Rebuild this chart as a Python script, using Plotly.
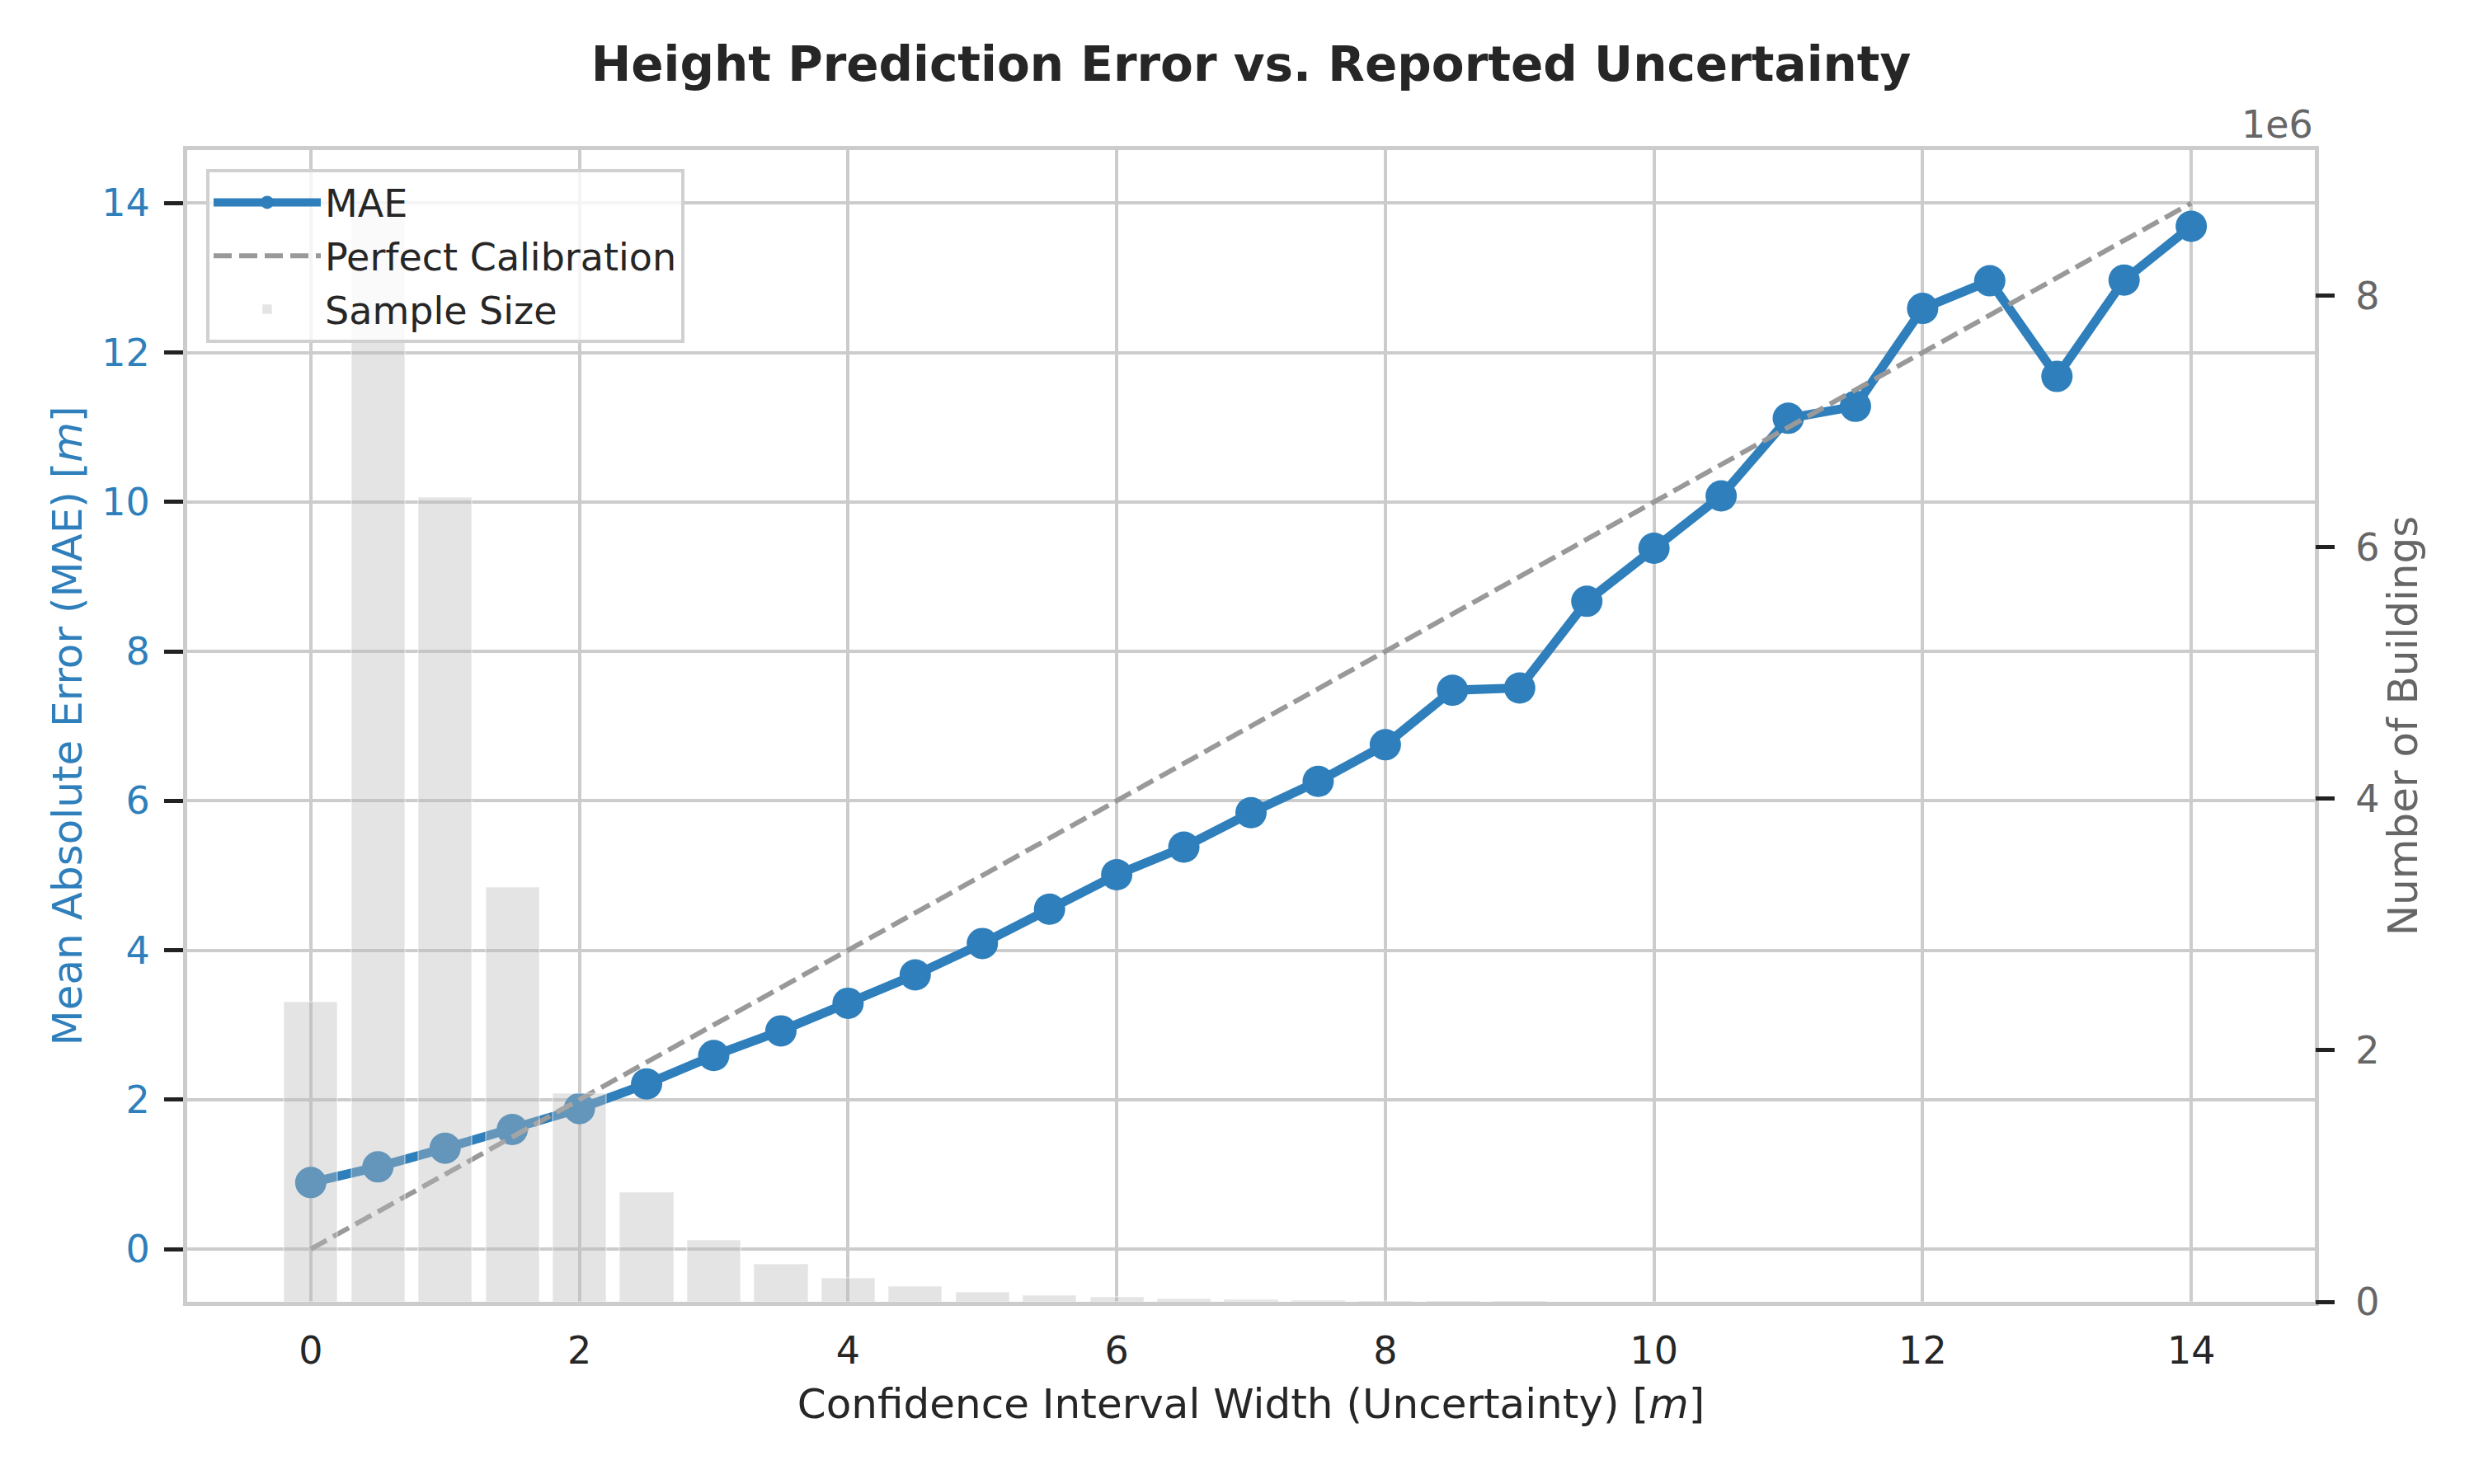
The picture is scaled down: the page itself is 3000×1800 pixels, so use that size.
import plotly.graph_objects as go

# ---- data ----
ci_width = [0.0, 0.5, 1.0, 1.5, 2.0, 2.5, 3.0, 3.5, 4.0, 4.5, 5.0, 5.5, 6.0, 6.5, 7.0,
            7.5, 8.0, 8.5, 9.0, 9.5, 10.0, 10.5, 11.0, 11.5, 12.0, 12.5, 13.0, 13.5, 14.0]
mae = [0.89, 1.10, 1.35, 1.60, 1.88, 2.21, 2.59, 2.92, 3.29, 3.67, 4.09, 4.55, 5.01, 5.38, 5.84,
       6.26, 6.75, 7.48, 7.51, 8.67, 9.38, 10.08, 11.12, 11.28, 12.59, 12.96, 11.68, 12.97, 13.69]
n_buildings = [2.39e6, 8.72e6, 6.40e6, 3.30e6, 1.66e6, 0.875e6, 0.494e6, 0.30e6, 0.19e6, 0.125e6,
               0.079e6, 0.052e6, 0.037e6, 0.026e6, 0.019e6, 0.012e6, 0.009e6, 0.006e6, 0.004e6,
               0.003e6, 0.002e6, 0.0015e6, 0.001e6, 0.0008e6, 0.0006e6, 0.0004e6, 0.0003e6,
               0.0002e6, 0.0002e6]
calib_x = [0, 14]
calib_y = [0, 14]
x_ticks = [0, 2, 4, 6, 8, 10, 12, 14]
y_ticks = [0, 2, 4, 6, 8, 10, 12, 14]
y2_ticks = [0, 2e6, 4e6, 6e6, 8e6]
y2_ticklabels = ["0", "2", "4", "6", "8"]

BLUE = "#2e7fbb"
FONT = "DejaVu Sans"

fig = go.Figure()
fig.add_trace(go.Scatter(
    x=ci_width, y=mae, mode="lines+markers", name="MAE",
    line=dict(color=BLUE, width=11), marker=dict(color=BLUE, size=38),
    legendrank=1, legendgroup="a"))
fig.add_trace(go.Scatter(
    x=calib_x, y=calib_y, mode="lines", name="Perfect Calibration",
    line=dict(color="#999999", width=6, dash="22px,9px"),
    legendrank=2, legendgroup="b"))
fig.add_trace(go.Bar(
    x=ci_width, y=n_buildings, name="Sample Size", yaxis="y2", width=0.4,
    marker=dict(color="rgba(185,185,185,0.39)", line=dict(color="rgba(255,255,255,0.35)", width=2)),
    legendrank=3, legendgroup="c"))

axis_line = dict(showline=True, linecolor="#cccccc", linewidth=5, mirror=True)

fig.update_layout(
    width=3000, height=1800,
    margin=dict(l=227, r=193, t=182, b=221),
    paper_bgcolor="white", plot_bgcolor="white",
    font=dict(family=FONT, color="#262626"),
    title=dict(text="<b>Height Prediction Error vs. Reported Uncertainty</b>",
               font=dict(size=58, color="#262626", family=FONT),
               x=1517 / 3000, xanchor="center", y=1 - 78 / 1800, yanchor="middle"),
    xaxis=dict(range=[-0.92, 14.92], tickvals=x_ticks, ticks="", ticklen=0,
               showgrid=True, gridcolor="#cccccc", gridwidth=4, zeroline=False,
               tickfont=dict(size=46, color="#262626"), ticklabelstandoff=15,
               title=dict(text="Confidence Interval Width (Uncertainty) [<i>m</i>]",
                          font=dict(size=50, color="#262626"), standoff=22),
               **axis_line),
    yaxis=dict(range=[-0.706, 14.71], tickvals=y_ticks, ticks="outside", ticklen=23,
               tickwidth=5, tickcolor="#222222",
               showgrid=True, gridcolor="#cccccc", gridwidth=4, zeroline=False,
               tickfont=dict(size=46, color=BLUE), ticklabelstandoff=8,
               title=dict(text="Mean Absolute Error (MAE) [<i>m</i>]",
                          font=dict(size=50, color=BLUE), standoff=9),
               **axis_line),
    yaxis2=dict(overlaying="y", side="right", range=[0, 9.16e6],
                tickvals=y2_ticks, ticktext=y2_ticklabels, ticks="outside", ticklen=23,
                tickwidth=5, tickcolor="#222222", showgrid=False, zeroline=False,
                showline=False,
                tickfont=dict(size=46, color="#666666"), ticklabelstandoff=16,
                title=dict(text="Number of Buildings", font=dict(size=50, color="#666666"),
                           standoff=6)),
    legend=dict(x=(250 - 227) / 2580, y=(1579 - 205) / 1397, xanchor="left", yanchor="top",
                bgcolor="rgba(255,255,255,0.8)", bordercolor="#d0d0d0", borderwidth=4,
                font=dict(size=46, color="#262626"), traceorder="grouped",
                tracegroupgap=2, itemwidth=130),
    bargap=0,
    showlegend=True,
)
fig.add_annotation(text="1e6", xref="paper", yref="paper", x=1.0, y=1.0,
                   xanchor="right", yanchor="bottom", yshift=2, showarrow=False,
                   font=dict(size=46, color="#666666", family=FONT))

fig.write_html("out.html", config={"displayModeBar": False},
               post_script="document.body.style.margin='0';")
